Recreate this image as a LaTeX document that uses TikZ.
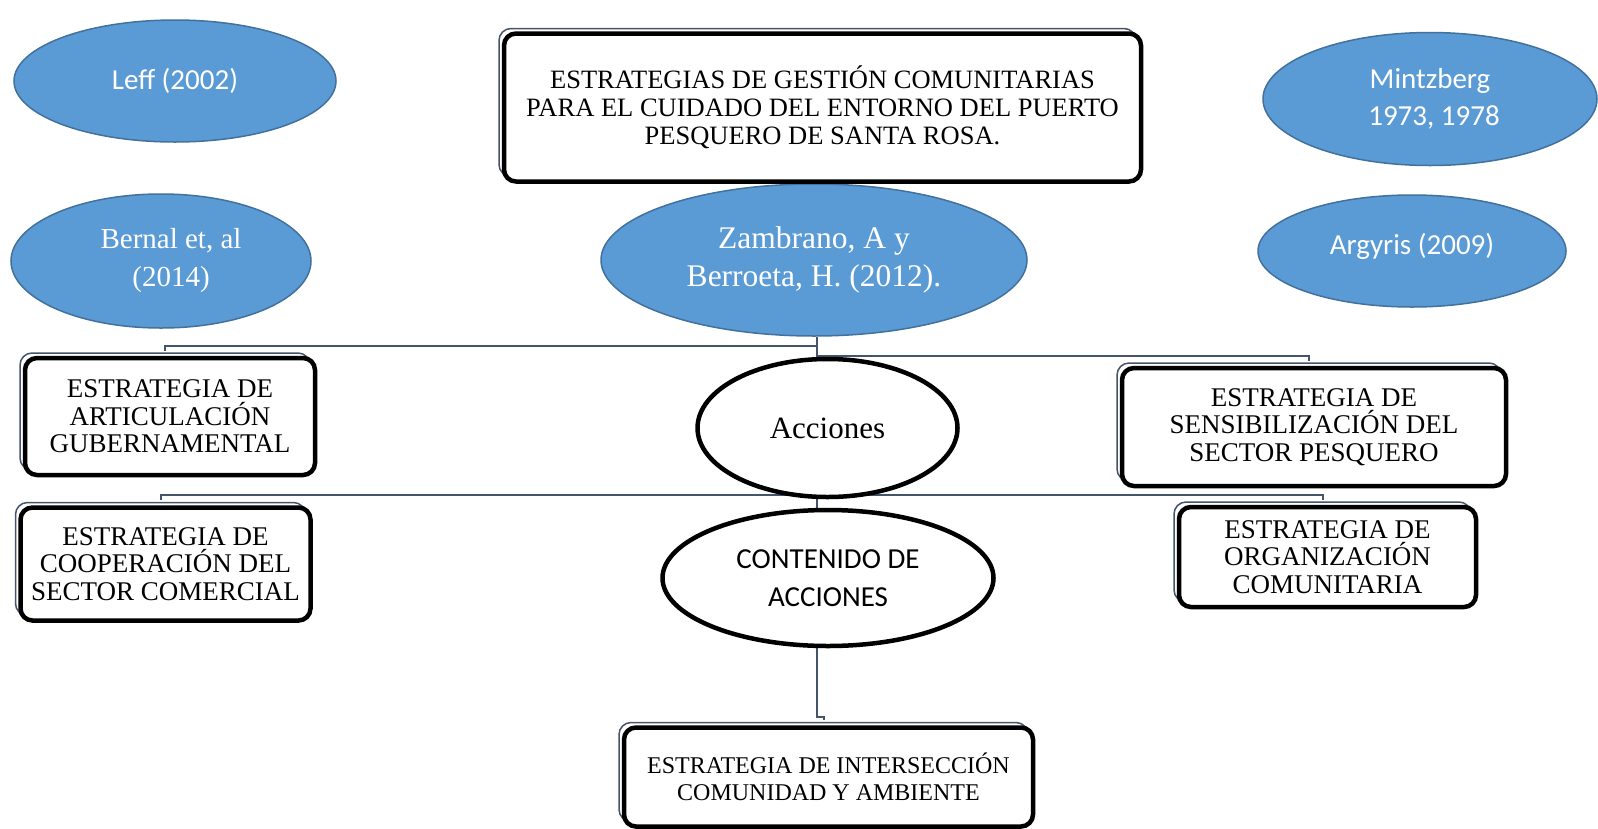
\documentclass[tikz,border=0pt]{standalone}
\usepackage{fontspec}
\setmainfont{Liberation Serif}
\newfontfamily\calibri{Carlito}
\usetikzlibrary{shapes.geometric, shadows, backgrounds}
\definecolor{azul}{HTML}{5B9BD5}
\definecolor{azulborde}{HTML}{41719C}
\definecolor{linea}{HTML}{44546A}
\tikzset{autor/.style = {ellipse, fill=azul, draw=azulborde, line width=1.5pt, text=white, align=center, inner sep=0pt}}
\tikzset{caja/.style = {draw, line width=4.5pt, rounded corners=12pt, fill=white, align=center, inner sep=0pt,
  font=\fontsize{27}{27.5}\selectfont,
  general shadow={shadow xshift=-5pt, shadow yshift=5pt, draw=linea, line width=1.5pt, fill=white}}}
\tikzset{ovalo/.style = {ellipse, draw, line width=4.5pt, fill=white, align=center, inner sep=0pt}}
\tikzset{conector/.style = {draw=linea, line width=2pt}}
\tikzset{sans/.style = {font=\calibri\fontsize{29}{37}\selectfont}}

\begin{document}
\begin{tikzpicture}[x=1pt, y=-1pt]
\useasboundingbox (0,0) rectangle (1598,828);
\node[autor, sans, minimum width=322pt, minimum height=122pt] (leff) at (175,81) {Leff (2002)};
\node[autor, sans, minimum width=334pt, minimum height=133pt] (mintzberg) at (1430,99) {Mintzberg\\\hspace*{8pt}1973, 1978};
\node[autor, minimum width=300pt, minimum height=134pt, font=\fontsize{29}{38}\selectfont] (bernal) at (161,261) {\hspace*{20pt}Bernal et, al\\\hspace*{20pt}(2014)};
\node[autor, sans, minimum width=308pt, minimum height=112pt, text height=21pt, text depth=15pt] (argyris) at (1412,251) {Argyris (2009)};
\node[autor, minimum width=426pt, minimum height=152pt, font=\fontsize{31.5}{38}\selectfont] (zambrano) at (814,260) {Zambrano, A y\\Berroeta, H. (2012).};
\node[caja, minimum width=637pt, minimum height=148pt, font=\fontsize{26.5}{28}\selectfont] (titulo) at (822.5,107.5) {ESTRATEGIAS DE GESTIÓN COMUNITARIAS\\PARA EL CUIDADO DEL ENTORNO DEL PUERTO\\PESQUERO DE SANTA ROSA.};
\node[caja, minimum width=290pt, minimum height=117pt] (articulacion) at (170,416.5) {ESTRATEGIA DE\\ARTICULACIÓN\\GUBERNAMENTAL};
\node[caja, minimum width=290pt, minimum height=113pt] (cooperacion) at (165.5,564) {ESTRATEGIA DE\\COOPERACIÓN DEL\\SECTOR COMERCIAL};
\node[caja, minimum width=384pt, minimum height=118pt] (sensibilizacion) at (1314,427) {ESTRATEGIA DE\\SENSIBILIZACIÓN DEL\\SECTOR PESQUERO};
\node[caja, minimum width=297pt, minimum height=100pt] (organizacion) at (1327.5,557) {ESTRATEGIA DE\\ORGANIZACIÓN\\COMUNITARIA};
\node[caja, minimum width=409pt, minimum height=99pt, font=\fontsize{24}{26.5}\selectfont] (interseccion) at (828.5,777) {ESTRATEGIA DE INTERSECCIÓN\\COMUNIDAD Y AMBIENTE};
\node[ovalo, minimum width=260pt, minimum height=138pt, font=\fontsize{31}{37}\selectfont] (acciones) at (827.5,428) {Acciones};
\node[ovalo, minimum width=331pt, minimum height=136pt, font=\calibri\fontsize{29}{38.5}\selectfont] (contenido) at (828,578) {CONTENIDO DE\\ACCIONES};

\coordinate (eje) at (817,0);
\coordinate (a1) at ([xshift=-5pt, yshift=5pt]articulacion.north);
\coordinate (a2) at ([xshift=-5pt, yshift=5pt]cooperacion.north);
\coordinate (a3) at ([xshift=-5pt, yshift=5pt]sensibilizacion.north);
\coordinate (a4) at ([xshift=-5pt, yshift=5pt]organizacion.north);
\coordinate (a5) at ([xshift=-5pt, yshift=5pt]interseccion.north);
\begin{scope}[on background layer]
\draw[conector] (zambrano.south -| eje) |- ([yshift=5pt]a1) -- (a1);
\draw[conector] (zambrano.south -| eje) |- ([yshift=5pt]a3) -- (a3);
\draw[conector] (zambrano.south -| eje) -- (acciones.north -| eje);
\draw[conector] (acciones.south -| eje) |- ([yshift=5pt]a2) -- (a2);
\draw[conector] (acciones.south -| eje) |- ([yshift=5pt]a4) -- (a4);
\draw[conector] (acciones.south -| eje) -- (contenido.north -| eje);
\draw[conector] (contenido.south -| eje) |- ([yshift=3pt]a5) -- (a5);
\end{scope}
\end{tikzpicture}
\end{document}
